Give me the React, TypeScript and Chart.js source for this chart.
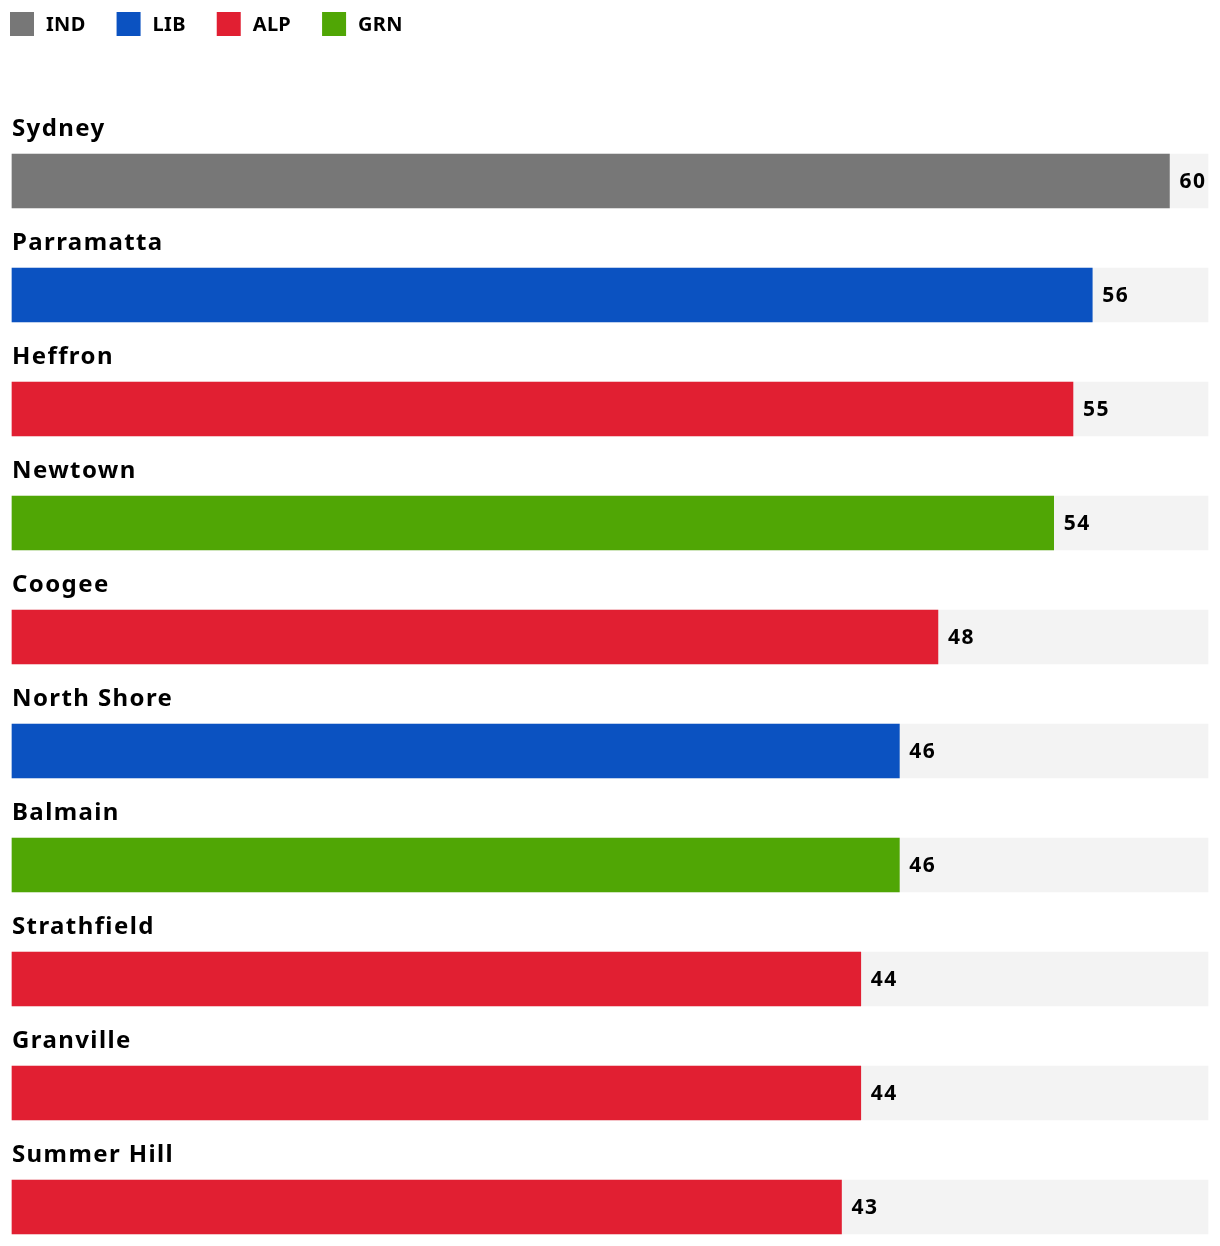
import React, { useEffect, useRef } from "react";
import { Chart, registerables } from "chart.js";

Chart.register(...registerables);

const electorates = ["Sydney", "Parramatta", "Heffron", "Newtown", "Coogee", "North Shore", "Balmain", "Strathfield", "Granville", "Summer Hill"];
const values = [60, 56, 55, 54, 48, 46, 46, 44, 44, 43];
const parties = ["IND", "LIB", "ALP", "GRN", "ALP", "LIB", "GRN", "ALP", "ALP", "ALP"];
const legendParties = ["IND", "LIB", "ALP", "GRN"];
const partyColors: Record<string, string> = {
  IND: "#777777",
  LIB: "#0b52c1",
  ALP: "#e11f32",
  GRN: "#50a605",
};
const trackMax = 62;

const FONT = "'Noto Sans', sans-serif";

const labelPlugin = {
  id: "labels",
  afterDatasetsDraw(chart: any) {
    const ctx = chart.ctx;
    const meta = chart.getDatasetMeta(0);
    ctx.save();
    ctx.fillStyle = "#000000";
    meta.data.forEach((bar: any, i: number) => {
      const top = bar.y - 27;
      ctx.font = `bold 24px ${FONT}`;
      ctx.letterSpacing = "1.4px";
      ctx.textAlign = "left";
      ctx.textBaseline = "alphabetic";
      ctx.fillText(electorates[i], chart.chartArea.left, top - 18);
      ctx.font = `bold 21px ${FONT}`;
      ctx.letterSpacing = "1.5px";
      ctx.textBaseline = "middle";
      ctx.fillText(String(values[i]), bar.x + 10, bar.y + 1);
    });
    // legend
    let x = 2;
    ctx.font = `bold 20px ${FONT}`;
    ctx.letterSpacing = "0.3px";
    ctx.textBaseline = "alphabetic";
    legendParties.forEach((p) => {
      ctx.fillStyle = partyColors[p];
      ctx.fillRect(x, 4, 24, 24);
      ctx.fillStyle = "#000000";
      ctx.fillText(p, x + 36, 23);
      x += 36 + ctx.measureText(p).width + 31;
    });
    ctx.restore();
  },
};

export default function App() {
  const ref = useRef<HTMLCanvasElement | null>(null);
  useEffect(() => {
    if (!ref.current) return;
    const chart = new Chart(ref.current, {
      type: "bar",
      data: {
        labels: electorates,
        datasets: [
          {
            data: values,
            backgroundColor: parties.map((p) => partyColors[p]),
            barThickness: 54,
            grouped: false,
            order: 1,
            clip: false as any,
            borderWidth: 0,
          },
          {
            data: electorates.map(() => trackMax),
            backgroundColor: "#f3f3f3",
            barThickness: 54,
            grouped: false,
            order: 2,
            clip: false as any,
            borderWidth: 0,
          },
        ],
      },
      options: {
        indexAxis: "y",
        animation: false,
        responsive: true,
        maintainAspectRatio: false,
        events: [],
        layout: { padding: { top: 173, bottom: 31, left: 4, right: 4 } },
        scales: {
          x: { display: false, min: 0, max: trackMax },
          y: { display: false, offset: false },
        },
        plugins: {
          legend: { display: false },
          tooltip: { enabled: false },
        },
      },
      plugins: [labelPlugin],
    });
    return () => chart.destroy();
  }, []);
  return (
    <div style={{ position: "relative", width: "1204px", height: "1230px" }}>
      <canvas ref={ref} />
    </div>
  );
}
